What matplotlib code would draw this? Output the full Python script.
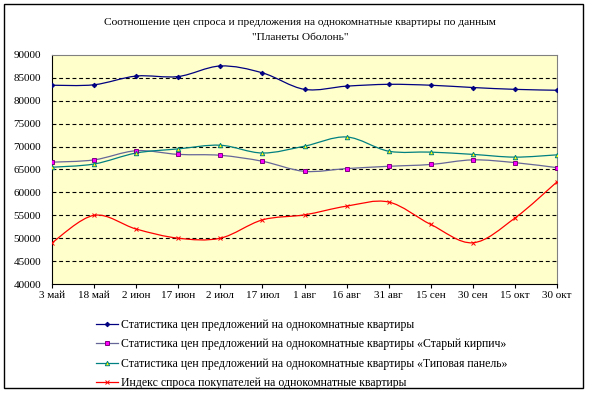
import matplotlib
matplotlib.use('Agg')
from matplotlib import pyplot as plt
from matplotlib.path import Path
from matplotlib.patches import PathPatch, Rectangle
from matplotlib.lines import Line2D
import numpy as np

plt.rcParams['font.family'] = ['Liberation Serif', 'DejaVu Serif']

dates = ['3 май', '18 май', '2 июн', '17 июн', '2 июл', '17 июл', '1 авг',
         '16 авг', '31 авг', '15 сен', '30 сен', '15 окт', '30 окт']

offer_all = [83400, 83500, 85400, 85300, 87600, 86100, 82500,
             83200, 83600, 83400, 82900, 82500, 82300]
offer_brick = [66600, 67100, 69100, 68300, 68100, 66800, 64600,
               65200, 65700, 66100, 67100, 66500, 65400]
offer_panel = [65500, 66200, 68600, 69500, 70300, 68600, 70100,
               72100, 69000, 68800, 68300, 67700, 68200]
demand_index = [49000, 55000, 52000, 50000, 50000, 54000, 55100,
                57000, 57900, 53000, 49000, 54400, 62300]

labels = [
    'Статистика цен предложений на однокомнатные квартиры',
    'Статистика цен предложений на однокомнатные квартиры «Старый кирпич»',
    'Статистика цен предложений на однокомнатные квартиры «Типовая панель»',
    'Индекс спроса покупателей на однокомнатные квартиры',
]


def smooth_path(xs, ys):
    # excel-like smoothed line: bezier segments through every point
    p = np.column_stack([xs, ys]).astype(float)
    pts = np.vstack([p[0], p, p[-1]])
    verts = [tuple(p[0])]
    codes = [Path.MOVETO]
    for i in range(1, len(pts) - 2):
        c1 = pts[i] + (pts[i + 1] - pts[i - 1]) / 6
        c2 = pts[i + 1] - (pts[i + 2] - pts[i]) / 6
        verts += [tuple(c1), tuple(c2), tuple(pts[i + 1])]
        codes += [Path.CURVE4] * 3
    return Path(verts, codes)


W, H = 589, 395
fig = plt.figure(figsize=(W / 100, H / 100), dpi=100)
fig.patches.append(Rectangle((4 / W, 1 - 388 / H), 579 / W, 384 / H,
                             transform=fig.transFigure, fill=False,
                             edgecolor='black', linewidth=1))

ax = fig.add_axes([52 / W, 1 - 284 / H, 505 / W, 229 / H])
ax.set_facecolor('#FFFFCC')

series = [
    (offer_all, '#000080', 'D', '#000080', '#000080', 2.3),
    (offer_brick, '#666699', 's', '#FF00FF', '#800080', 3),
    (offer_panel, '#008080', '^', '#FFFF00', '#008080', 3.2),
    (demand_index, '#FF0000', 'x', '#FF0000', '#FF0000', 2.6),
]

x = np.arange(len(dates))
handles = []
for vals, col, mk, fc, ec, ms in series:
    ax.add_patch(PathPatch(smooth_path(x, vals), fill=False,
                           edgecolor=col, linewidth=0.9, zorder=3))
    ax.plot(x, vals, linestyle='none', marker=mk, markersize=ms,
            markerfacecolor=fc, markeredgecolor=ec, markeredgewidth=0.7,
            zorder=4)
    handles.append(Line2D([], [], color=col, linewidth=0.9, marker=mk,
                          markersize=ms, markerfacecolor=fc,
                          markeredgecolor=ec, markeredgewidth=0.7))

ax.set_xlim(0, 12)
ax.set_ylim(40000, 90000)
ax.set_yticks(range(40000, 90001, 5000))
ax.set_xticks(x)
ax.set_xticklabels(dates)

for yv in range(45000, 90000, 5000):
    ax.axhline(yv, color='black', linewidth=0.8, dashes=(3.5, 2.5), zorder=1)

ax.tick_params(axis='y', length=0, pad=8, labelsize=8)
ax.tick_params(axis='x', length=3, width=0.8, direction='out', pad=2,
               labelsize=8)
for s in ['top', 'right']:
    ax.spines[s].set_color('#808080')
for s in ['left', 'bottom']:
    ax.spines[s].set_color('black')
for s in ax.spines.values():
    s.set_linewidth(0.8)

fig.text(300 / W, 1 - 30 / H,
         'Соотношение цен спроса и предложения на однокомнатные квартиры по данным\n'
         '"Планеты Оболонь"',
         ha='center', va='center', fontsize=8.2, linespacing=1.8)

fig.legend(handles, labels, loc='upper left',
           bbox_to_anchor=(96 / W, 1 - 319 / H), frameon=False,
           fontsize=8.5, handlelength=1.9, handletextpad=0.2,
           labelspacing=0.62, borderpad=0, borderaxespad=0)

fig.savefig('out.png', dpi=100)
